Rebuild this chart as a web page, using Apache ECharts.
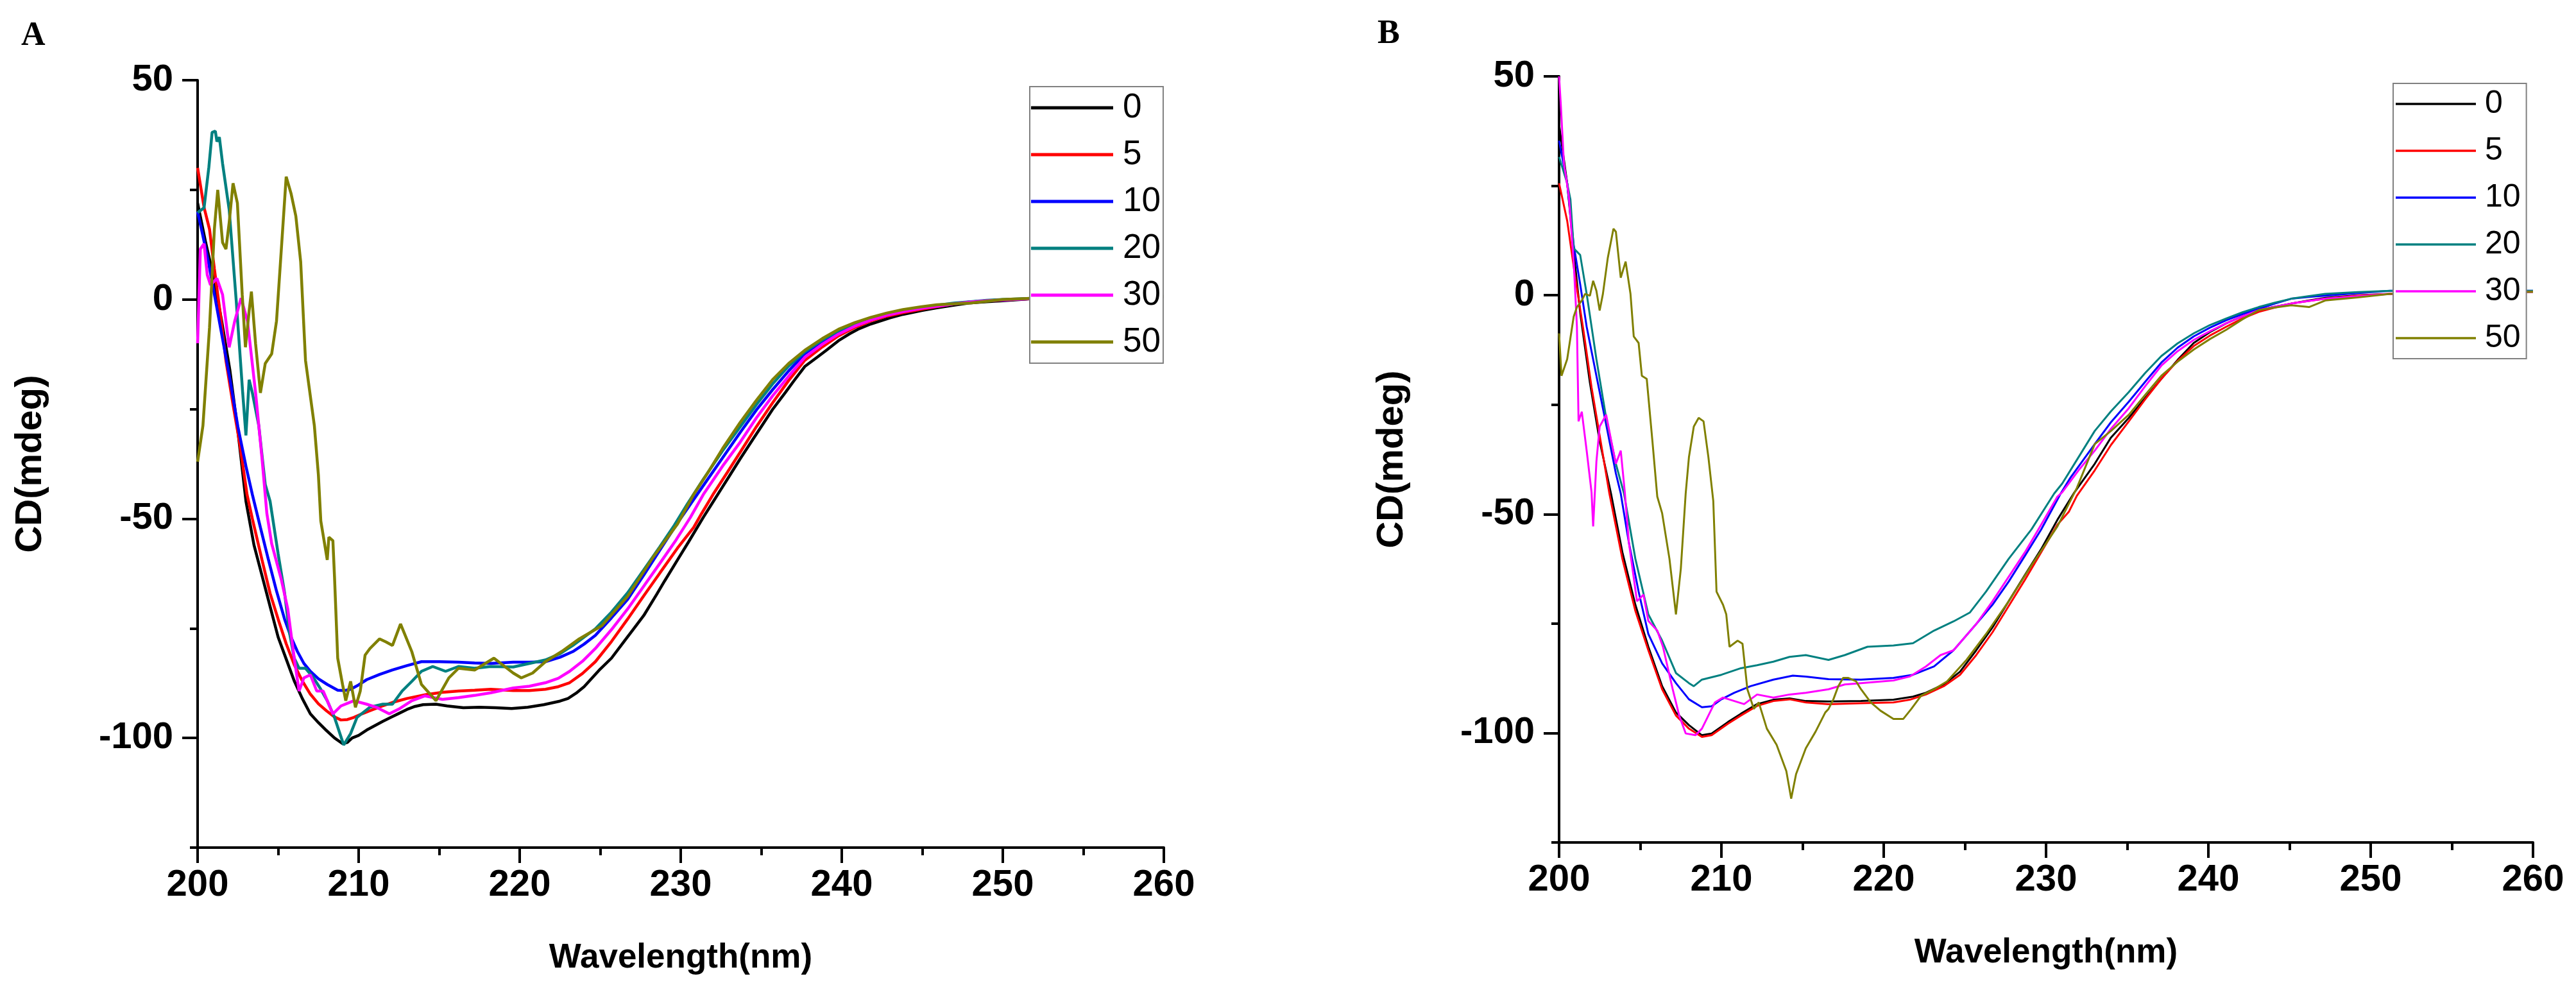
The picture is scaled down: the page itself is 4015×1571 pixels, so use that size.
<!DOCTYPE html>
<html>
<head>
<meta charset="utf-8">
<script src="https://cdn.jsdelivr.net/npm/echarts@6/dist/echarts.min.js"></script>
<style>
  html, body { margin: 0; padding: 0; background: #fff; }
  #main { width: 4015px; height: 1571px; }
</style>
</head>
<body>
<div id="main"></div>
<script>
// concentrations (legend names) and line colours
var concNames = ['0', '5', '10', '20', '30', '50'];
var concColors = ['#000000', '#ff0000', '#0000ff', '#008080', '#ff00ff', '#808000'];

// axis ticks
var yLabelValues = [-100, -50, 0, 50];
var yMinorValues = [-125, -75, -25, 25];

// panel A, [wavelength nm, CD mdeg]
var a0 = [[200,22],[200.5,13],[201,5],[201.5,-5],[202,-16],[202.5,-30],[203,-46],[203.5,-56],[204,-63],[204.5,-70],[205,-77],[205.5,-82],[206,-87],[206.5,-91],[207,-94.5],[207.5,-96.5],[208,-98.3],[208.5,-100],[209,-101.3],[209.3,-101],[209.6,-100],[210,-99.4],[210.5,-98.2],[211,-97.2],[211.5,-96.2],[212,-95.3],[212.5,-94.4],[213,-93.5],[213.5,-92.8],[214,-92.4],[214.8,-92.3],[215.5,-92.7],[216.5,-93.1],[217.5,-93],[218.5,-93.1],[219.5,-93.3],[220.5,-93],[221.5,-92.4],[222.5,-91.6],[223,-91],[223.5,-89.8],[224,-88.3],[224.5,-86.3],[225,-84.3],[225.7,-81.8],[226.5,-77.9],[227,-75.5],[227.7,-72.1],[228.5,-67.3],[229,-64.2],[229.8,-59.4],[230.5,-55.2],[231.4,-49.7],[232,-46.2],[232.5,-43.3],[233,-40.4],[233.7,-36.3],[234.5,-31.8],[235,-29],[235.7,-25.1],[236.5,-21.2],[237,-18.7],[237.7,-15.3],[238.5,-13.1],[239,-11.7],[239.8,-9.4],[240.5,-7.8],[241,-6.8],[241.8,-5.6],[243,-4.2],[243.8,-3.4],[245,-2.5],[245.9,-1.9],[247,-1.3],[247.9,-0.8],[249,-0.5],[250,-0.3],[252,0.2],[254,0.4],[256,0.5],[258,0.6],[260,0.6]];
var a5 = [[200,30],[200.4,21],[200.74,16],[201.04,7],[201.4,-3],[201.76,-14],[202.2,-24],[202.6,-32.5],[203.07,-44.5],[203.4,-50],[204,-59.4],[204.5,-67],[205,-72.9],[205.5,-78.5],[206,-83.3],[206.5,-87],[207,-90],[207.5,-92.2],[208,-93.8],[208.5,-95.2],[208.9,-95.9],[209.3,-95.8],[209.7,-95.3],[210.2,-94.5],[210.7,-93.8],[211.4,-92.8],[212.1,-91.9],[213,-91],[214.2,-90.1],[215.2,-89.6],[216.2,-89.3],[217.2,-89.1],[218.2,-88.9],[219.6,-89.2],[220.6,-89.2],[221.6,-88.9],[222.4,-88.3],[223.1,-87.4],[223.9,-85.3],[224.7,-82.6],[225.7,-78],[226.7,-72.9],[227.7,-67.6],[228.7,-62.4],[229.8,-56.7],[230.8,-52],[231.3,-48.8],[232,-44.5],[232.9,-39.4],[233.7,-34.8],[234.7,-29],[235.7,-23.6],[236.7,-18.5],[237.7,-13.9],[238.8,-10.8],[239.8,-8.3],[240.8,-6.4],[241.8,-4.9],[242.8,-3.8],[243.8,-3],[245,-2.2],[246,-1.6],[247,-1],[248,-0.6],[249,-0.3],[250,-0.1],[252,0.2],[255,0.4],[260,0.6]];
var a10 = [[200,20],[200.3,15],[200.7,8],[201,2],[201.5,-8],[202,-18],[202.5,-29],[203,-38],[203.4,-44.5],[203.9,-52],[204.4,-59.4],[204.9,-66.5],[205.4,-72.9],[205.8,-77],[206.2,-80.3],[206.6,-83],[207,-84.8],[207.5,-86.5],[208.05,-87.8],[208.7,-89.1],[209.1,-89.2],[209.5,-88.9],[210,-87.9],[210.5,-86.7],[211.3,-85.5],[212.1,-84.5],[213,-83.5],[213.9,-82.6],[215,-82.6],[216.2,-82.7],[217.2,-82.9],[218.2,-83],[219.6,-82.7],[220.6,-82.7],[221.6,-82.6],[222.5,-81.6],[223.3,-80.3],[224,-78.6],[224.7,-76.6],[225.7,-72.6],[226.7,-68.4],[227.7,-62.9],[228.7,-57.2],[229.7,-51.5],[230.6,-46.7],[231.6,-41.4],[232.6,-36.1],[233.7,-30.3],[234.7,-25.2],[235.7,-20.6],[236.7,-16.3],[237.7,-12.4],[238.8,-9.6],[239.8,-7.5],[240.8,-5.8],[241.8,-4.5],[242.8,-3.5],[243.8,-2.7],[244.9,-2],[245.9,-1.5],[247,-1],[247.9,-0.6],[249,-0.3],[249.9,-0.1],[252,0.2],[255,0.4],[260,0.6]];
var a20 = [[200,19.8],[200.4,20.9],[200.7,30.2],[200.9,38.1],[201.1,38.4],[201.2,36],[201.35,37],[201.55,31],[201.96,20.5],[202.4,-0.4],[202.8,-21.3],[203,-31],[203.2,-18.3],[203.4,-21.3],[203.8,-28.8],[204.2,-42.2],[204.5,-46],[205,-58],[205.4,-66.9],[205.7,-75.9],[206,-81.8],[206.3,-84.1],[206.7,-84.1],[207.2,-86.3],[207.6,-88.6],[208.05,-91.5],[208.5,-95.3],[209.07,-101.6],[209.5,-99],[209.9,-95.3],[210.7,-93],[211.5,-92.3],[212.1,-92.3],[212.7,-89.3],[213.3,-87.1],[213.9,-84.8],[214.6,-83.7],[215.4,-84.8],[216.2,-83.7],[217.2,-84.1],[218.2,-83.7],[219.6,-83.8],[220.6,-83],[221.6,-82.2],[222.5,-80.8],[223.3,-78.9],[224.7,-75.1],[225.7,-71.3],[226.7,-66.9],[227.7,-61.7],[228.7,-56.4],[229.6,-51.5],[230.4,-46.7],[231.4,-41],[232.6,-34.5],[233.7,-29],[234.7,-24],[235.7,-19.3],[236.7,-15.2],[237.7,-11.9],[238.8,-9.2],[239.8,-7.1],[240.8,-5.5],[241.8,-4.3],[242.8,-3.3],[243.8,-2.5],[245,-1.8],[246,-1.3],[247,-0.8],[248,-0.5],[249,-0.2],[250,0],[252,0.3],[255,0.5],[260,0.7]];
var a30 = [[200,-10],[200.17,11.5],[200.4,12.7],[200.6,5.6],[200.8,3.3],[201.2,4.8],[201.55,1.1],[201.96,-10.9],[202.3,-5],[202.7,0.3],[203.1,-5],[203.6,-21.3],[204,-36.3],[204.3,-48.8],[204.6,-55.7],[205.2,-63.9],[205.6,-70.6],[206,-81.8],[206.3,-89.3],[206.6,-86.3],[207,-85.6],[207.4,-89.3],[207.8,-89.3],[208.4,-94.5],[208.9,-92.7],[209.7,-91.5],[210.5,-92.3],[211.1,-93],[211.9,-94.5],[212.5,-93.4],[213.3,-91.5],[214.1,-90.4],[215.2,-91.2],[216.2,-90.8],[217.2,-90.3],[218.2,-89.7],[219.6,-88.6],[220.6,-88.2],[221.6,-87.4],[222.4,-86.4],[223.1,-84.8],[223.9,-82.5],[224.7,-79.6],[225.7,-75.3],[226.7,-70.6],[227.7,-65.4],[228.7,-60.2],[229.7,-54.9],[230.6,-49.7],[231.4,-44.5],[232.6,-38],[233.7,-32.5],[234.7,-27],[235.7,-22],[236.7,-17.5],[237.7,-13.2],[238.8,-10.2],[239.8,-7.9],[240.8,-6.1],[241.8,-4.7],[242.8,-3.6],[243.8,-2.8],[245,-2],[246,-1.5],[247,-1],[248,-0.6],[249,-0.3],[250,-0.1],[252,0.2],[255,0.4],[260,0.6]];
var a50 = [[200,-37],[200.33,-28.8],[200.74,-6.4],[201.04,16],[201.25,25],[201.55,13],[201.76,11.5],[201.96,17.5],[202.2,26.5],[202.47,22],[202.77,1.1],[202.97,-10.9],[203.2,-2.6],[203.34,1.8],[203.6,-10.1],[203.9,-21.3],[204.2,-14.6],[204.6,-12.4],[204.9,-4.9],[205.2,11.5],[205.5,28],[205.8,24.2],[206.1,19],[206.4,8.6],[206.7,-13.9],[207.25,-28.8],[207.5,-40],[207.65,-50.5],[208.05,-59.4],[208.15,-54.2],[208.4,-55],[208.5,-63.2],[208.7,-81.8],[209,-87.8],[209.2,-91.5],[209.5,-87.1],[209.8,-93],[210.1,-89.3],[210.4,-81.1],[210.7,-79.6],[211.3,-77.4],[211.7,-78.1],[212.1,-78.9],[212.6,-74],[213.3,-80.3],[213.9,-87.8],[214.8,-91.5],[215.6,-86.3],[216.2,-84.1],[217.2,-84.5],[218.4,-81.8],[219.6,-85.2],[220.1,-86.3],[220.8,-85.2],[221.6,-82.6],[222.6,-80.3],[223.7,-77.4],[225.1,-74.4],[226.7,-67.7],[228.3,-58.7],[229.8,-51.2],[230.8,-44.5],[231.6,-40],[232.6,-34],[233.7,-28],[234.7,-23],[235.7,-18.3],[236.7,-14.6],[237.7,-11.6],[238.8,-8.9],[239.8,-6.8],[240.8,-5.3],[241.8,-4.1],[242.8,-3.1],[243.8,-2.3],[244.9,-1.7],[245.9,-1.2],[247,-1],[248,-0.8],[249,-0.4],[250,0],[252,0.3],[255,0.5],[260,0.7]];

// panel B, [wavelength nm, CD mdeg]
var b0 = [[200,39],[200.5,25.6],[200.9,10],[201.3,-4],[201.9,-20],[202.5,-33.3],[203.2,-45.3],[203.9,-58.7],[204.7,-70.7],[205.5,-80.3],[206.35,-89.3],[207.2,-95.3],[208,-98.2],[208.8,-100.5],[209.4,-100.1],[210.4,-97.5],[211.2,-95.6],[212.2,-93.4],[213.2,-92.4],[214.2,-92.1],[215.2,-92.7],[216.6,-92.8],[218.6,-92.7],[220.6,-92.4],[221.8,-91.7],[222.6,-90.8],[223.7,-88.9],[224.7,-86],[225.7,-81.1],[226.7,-75.9],[227.7,-69.9],[228.7,-63.9],[229.7,-58],[230.7,-51.3],[231.7,-45.3],[233,-38.5],[234,-32.5],[235.1,-28],[236.1,-23.5],[237.1,-19.1],[238.1,-14.8],[239.1,-10.9],[240.1,-8.4],[241.1,-6.4],[242.1,-4.8],[243.1,-3.4],[244.1,-2.6],[245.1,-1.9],[246.2,-1.2],[247.2,-0.6],[249.2,0],[251.2,0.3],[255,0.6],[260,0.8]];
var b5 = [[200,25.6],[200.5,17],[201,4],[201.5,-8],[202,-21],[202.5,-32],[203.1,-45.3],[203.9,-60.2],[204.7,-72.1],[205.5,-81.1],[206.35,-90],[207.2,-96],[208,-99],[208.8,-100.9],[209.4,-100.5],[210.4,-97.9],[211.2,-96],[212.2,-93.8],[213.2,-92.7],[214.2,-92.3],[215.2,-93],[216.6,-93.4],[218.6,-93.2],[220.6,-93],[221.6,-92.4],[222.6,-91.2],[223.7,-89.3],[224.7,-86.7],[225.7,-82.2],[226.7,-77],[227.7,-71],[228.7,-65],[229.7,-58.7],[230.7,-52.4],[231.4,-49.5],[231.9,-45.8],[233,-40],[234,-34.2],[235.1,-28.8],[236.1,-23.8],[237.1,-19.1],[238.1,-15],[239.1,-11.6],[240.1,-9.2],[241.1,-7.2],[242.1,-5.3],[243.1,-3.8],[244.1,-2.8],[245.1,-1.9],[246.2,-1.3],[247.2,-0.8],[249.2,-0.1],[251.2,0.3],[255,0.6],[260,0.8]];
var b10 = [[200,35.3],[200.5,25.6],[200.9,11.5],[201.3,2.5],[201.7,-7.2],[202.3,-18.4],[202.9,-29.5],[203.5,-40.7],[203.8,-45.3],[204.3,-56.5],[204.9,-67.7],[205.5,-77.4],[206.35,-84.1],[207.2,-88.6],[208,-92.3],[208.8,-94.1],[209.4,-93.9],[210,-92.3],[210.8,-90.8],[211.8,-89.3],[213.2,-87.8],[214.4,-86.9],[215.2,-87.1],[216.6,-87.7],[218.6,-87.8],[220.6,-87.4],[221.8,-86.7],[223.1,-84.8],[224.3,-81.1],[225.7,-75.1],[226.7,-70.7],[227.7,-65.4],[228.7,-59.5],[229.7,-53.5],[230.9,-45.3],[231.5,-41.7],[233,-34],[234,-29],[235.1,-24.3],[236.1,-19.8],[237.1,-15.4],[238.1,-12],[239.1,-9.4],[240.1,-7.4],[241.1,-5.7],[242.1,-4.3],[243.1,-3.1],[244.1,-1.9],[245.1,-0.8],[246.2,-0.4],[247.2,-0.1],[249.2,0.5],[251.2,1],[255,1],[260,1]];
var b20 = [[200,31.6],[200.5,25.6],[200.7,21.9],[200.9,10.7],[201.3,9.2],[201.7,0.3],[202.3,-14.6],[202.9,-28],[203.5,-38.5],[204,-45.3],[204.7,-60.2],[205.5,-72.9],[206.35,-78.9],[207.2,-86.3],[208,-88.6],[208.3,-89.3],[208.8,-87.8],[210,-86.7],[211.2,-85.2],[212.2,-84.5],[213.2,-83.7],[214.2,-82.6],[215.2,-82.2],[216.6,-83.3],[217.6,-82.2],[219,-80.3],[220.6,-80],[221.8,-79.5],[223.1,-76.6],[224.3,-74.5],[225.3,-72.5],[226.3,-67.7],[227.7,-60.2],[229.1,-53.5],[230.5,-45.3],[231,-43],[232,-37],[233,-31],[234,-26.5],[235.1,-22.1],[236.1,-17.8],[237.1,-13.9],[238.1,-11],[239.1,-8.7],[240.1,-6.8],[241.1,-5.3],[242.1,-3.9],[243.1,-2.7],[244.1,-1.7],[245.1,-0.8],[246.2,-0.2],[247.2,0.3],[249.2,0.7],[251.2,1],[255,1],[260,1]];
var b30 = [[200,50],[200.1,44],[200.3,30.1],[200.6,22.7],[200.9,7.7],[201.1,-7.2],[201.2,-28.8],[201.4,-26.6],[201.7,-35.5],[202,-45],[202.1,-52.8],[202.3,-38],[202.5,-30],[202.9,-27.3],[203.2,-33],[203.5,-38.5],[203.8,-35.5],[204.05,-45],[204.3,-56.5],[204.8,-69.9],[205.2,-68.4],[205.5,-74.4],[206.05,-76.6],[206.4,-80.3],[207,-90],[207.4,-96],[207.8,-100.1],[208.4,-100.5],[208.8,-99],[209.2,-96],[209.6,-93],[210.1,-91.9],[210.8,-92.7],[211.4,-93.4],[212.2,-91.2],[213.2,-91.9],[214.2,-91.2],[215.2,-90.8],[216.6,-90],[217.6,-88.9],[218.6,-88.6],[220.6,-88],[221.6,-87.1],[222.6,-84.8],[223.5,-82.2],[224.3,-81.1],[225.7,-75.1],[226.7,-69.9],[227.7,-64.3],[228.7,-58.7],[229.7,-52.4],[230.7,-46],[231,-45],[232,-40],[233,-35.5],[234,-30.5],[235.1,-25.8],[236.1,-20.8],[237.1,-16.1],[238.1,-12.8],[239.1,-10.2],[240.1,-8.2],[241.1,-6.4],[242.1,-4.8],[243.1,-3.4],[244.1,-2.6],[245.1,-1.9],[246.2,-1.3],[247.2,-0.8],[249.2,-0.2],[251.2,0.3],[255,0.6],[260,0.8]];
var b50 = [[200,-8.7],[200.15,-18.4],[200.5,-14.6],[200.9,-4.9],[201.1,-2.7],[201.4,-1.2],[201.6,0.3],[201.9,-0.1],[202.1,3.3],[202.3,1],[202.5,-3.5],[202.7,0.3],[203,8.5],[203.35,15.2],[203.5,14.5],[203.8,4],[204.1,7.7],[204.4,0.3],[204.6,-9.4],[204.9,-10.9],[205.1,-18.4],[205.4,-19.1],[205.75,-33.3],[206.05,-46],[206.35,-49.8],[206.8,-60.2],[207.2,-72.9],[207.5,-62.5],[207.8,-45.3],[208,-37],[208.3,-30],[208.6,-28],[208.9,-28.8],[209.2,-37],[209.5,-47],[209.7,-67.7],[210.1,-70.7],[210.3,-72.9],[210.5,-80.3],[211,-78.9],[211.3,-79.6],[211.6,-90],[212,-94.5],[212.3,-93],[212.8,-99],[213.4,-102.7],[214,-108.7],[214.3,-115],[214.6,-109.4],[215.2,-103.5],[215.8,-99.7],[216.4,-95.3],[216.6,-94.5],[216.9,-92.3],[217.2,-89.3],[217.5,-87.4],[217.8,-87.4],[218.3,-88.2],[218.6,-90],[219.2,-93],[219.8,-94.9],[220.6,-96.8],[221.2,-96.8],[221.7,-94.5],[222.3,-91.5],[223.1,-90],[223.9,-88.2],[225.1,-83.3],[226.3,-77.4],[227.7,-69.9],[229.1,-61.7],[230.7,-52.8],[231.9,-44],[233,-34],[234,-31],[235.1,-27.3],[236.1,-22.8],[237.1,-18.4],[238.1,-15.2],[239.1,-12.4],[240.1,-10],[241.1,-7.9],[242.1,-5.5],[243.1,-3.4],[244.1,-2.8],[245.1,-2.3],[246.2,-2.7],[247.2,-1.2],[249.2,-0.5],[251.2,0.3],[255,0.6],[260,0.8]];

var panelA = [a0, a5, a10, a20, a30, a50];
var panelB = [b0, b5, b10, b20, b30, b50];

var FONT = '"Liberation Sans", Arial, sans-serif';

function xAxisFor(grid) {
	return {
		gridIndex: grid, type: 'value', min: 200, max: 260, interval: 10,
		axisLine: { show: true, onZero: false, lineStyle: { color: '#000', width: 4 } },
		axisTick: { show: true, inside: false, length: 24, lineStyle: { color: '#000', width: 4 } },
		minorTick: { show: true, splitNumber: 2, length: 12, lineStyle: { color: '#000', width: 4 } },
		splitLine: { show: false },
		axisLabel: { margin: 30, color: '#000', fontSize: 58, fontWeight: 'bold', fontFamily: FONT },
		name: 'Wavelength(nm)', nameLocation: 'middle', nameGap: 146,
		nameTextStyle: { color: '#000', fontSize: 53, fontWeight: 'bold', fontFamily: FONT }
	};
}
function yAxesFor(grid) {
	return [{
		gridIndex: grid, type: 'value', position: 'left', min: -125, max: 50,
		axisLine: { show: true, onZero: false, lineStyle: { color: '#000', width: 4 } },
		axisTick: { show: true, inside: false, length: 24, customValues: yLabelValues, lineStyle: { color: '#000', width: 4 } },
		splitLine: { show: false },
		axisLabel: { margin: 38, customValues: yLabelValues, color: '#000', fontSize: 58, fontWeight: 'bold', fontFamily: FONT },
		name: 'CD(mdeg)', nameLocation: 'middle', nameRotate: 90, nameGap: 231,
		nameTextStyle: { color: '#000', fontSize: 58, fontWeight: 'bold', fontFamily: FONT }
	}, {
		// short ticks between the labelled ones
		gridIndex: grid, type: 'value', position: 'left', offset: 0, min: -125, max: 50,
		axisLine: { show: false },
		axisTick: { show: true, inside: false, length: 12, customValues: yMinorValues, lineStyle: { color: '#000', width: 4 } },
		splitLine: { show: false },
		axisLabel: { show: false }
	}];
}

var series = [];
panelA.forEach(function (d, i) {
	series.push({ name: concNames[i], type: 'line', xAxisIndex: 0, yAxisIndex: 0, data: d,
		symbol: 'none', color: concColors[i], lineStyle: { width: 4.5, color: concColors[i] } });
});
panelB.forEach(function (d, i) {
	series.push({ name: concNames[i], type: 'line', xAxisIndex: 1, yAxisIndex: 2, data: d,
		symbol: 'none', color: concColors[i], lineStyle: { width: 3, color: concColors[i] } });
});

var option = {
	animation: false,
	backgroundColor: '#fff',
	grid: [
		{ left: 308, top: 125, width: 1506, height: 1196 },
		{ left: 2430, top: 119, width: 1518, height: 1194 }
	],
	xAxis: [xAxisFor(0), xAxisFor(1)],
	yAxis: yAxesFor(0).concat(yAxesFor(1)),
	legend: [{
		left: 1605, top: 135, orient: 'vertical', data: concNames,
		backgroundColor: '#fff', borderColor: '#808080', borderWidth: 2, borderRadius: 0,
		padding: [5, 4, 5, 2], icon: 'rect', itemWidth: 128, itemHeight: 5, itemGap: 17,
		textStyle: { color: '#000', fontSize: 53, lineHeight: 56, fontFamily: FONT, padding: [0, 0, 0, 10] }
	}, {
		left: 3730, top: 130, orient: 'vertical', data: concNames,
		backgroundColor: '#fff', borderColor: '#808080', borderWidth: 2, borderRadius: 0,
		padding: [5, 9, 5, 4], icon: 'rect', itemWidth: 125, itemHeight: 3.5, itemGap: 19,
		textStyle: { color: '#000', fontSize: 50, lineHeight: 54, fontFamily: FONT, padding: [0, 0, 0, 9] }
	}],
	graphic: [
		{ type: 'text', left: 33, top: 31, style: { text: 'A', font: 'bold 52px "Liberation Serif", serif', fill: '#000' } },
		{ type: 'text', left: 2147, top: 28, style: { text: 'B', font: 'bold 52px "Liberation Serif", serif', fill: '#000' } }
	],
	series: series
};

var chart = echarts.init(document.getElementById('main'));
chart.setOption(option);
</script>
</body>
</html>
